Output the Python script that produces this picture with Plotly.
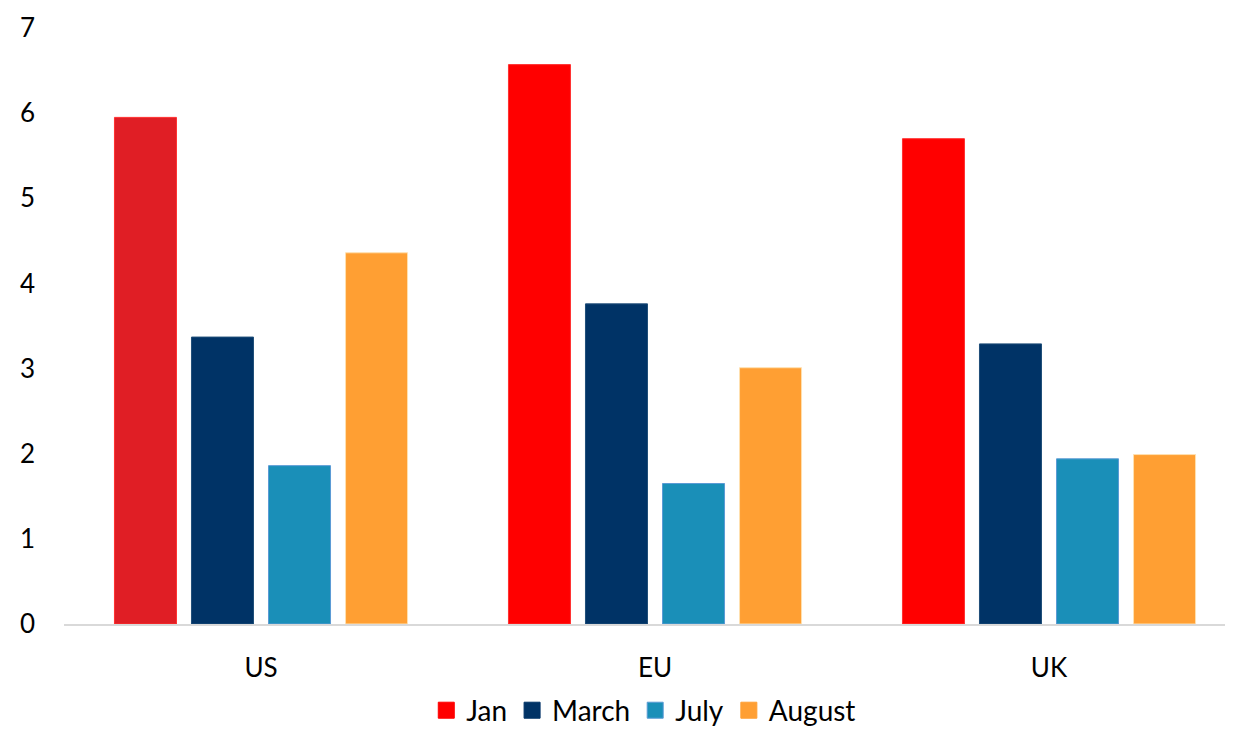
import plotly.graph_objects as go

categories = ["US", "EU", "UK"]
series_names = ["Jan", "March", "July", "August"]
jan = [5.95, 6.57, 5.70]
march = [3.37, 3.76, 3.29]
july = [1.86, 1.65, 1.94]
august = [4.36, 3.01, 1.99]
y_ticks = [0, 1, 2, 3, 4, 5, 6, 7]

values = [jan, march, july, august]
fills = [["#E01E25", "#FF0000", "#FF0000"], "#003366", "#1A8FB8", "#FF9F33"]
lines = [["#FF3030", "#FF3030", "#FF3030"], "#1F4E79", "#5B9BD5", "#FFE0B0"]
legend_colors = ["#FF0000", "#003366", "#1A8FB8", "#FF9F33"]
legend_lines = ["#FF0000", "#003366", "#5B9BD5", "#FF9F33"]

fig = go.Figure()
for name, vals, fc, lc in zip(series_names, values, fills, lines):
    fig.add_trace(go.Bar(
        name=name, x=categories, y=vals,
        marker=dict(color=fc, line=dict(color=lc, width=1)),
        showlegend=False,
    ))
# legend proxies (scatter markers do not take bar slots)
for name, c, lc in zip(series_names, legend_colors, legend_lines):
    fig.add_trace(go.Scatter(
        name=name, x=[None], y=[None], mode="markers",
        marker=dict(color=c, symbol="square", size=16, line=dict(color=lc, width=1)),
        showlegend=True,
    ))

fig.update_layout(
    width=1225, height=722,
    margin=dict(l=56, r=0, t=20, b=106, autoexpand=False),
    paper_bgcolor="white", plot_bgcolor="white",
    barmode="group", bargap=0.218, bargroupgap=0.195,
    font=dict(family="Lato, 'Open Sans', sans-serif", size=26, color="#000000"),
    legend=dict(orientation="h", x=0.519, xanchor="center", xref="container",
                y=0.027, yanchor="middle", yref="container",
                font=dict(size=28), itemwidth=30, traceorder="normal"),
    xaxis=dict(type="category", range=[-0.5, 2.467], showgrid=False,
               showline=True, linecolor="#D9D9D9", linewidth=1.5,
               ticks="", ticklabelstandoff=20, tickfont=dict(size=26)),
    yaxis=dict(range=[0, 7], tickvals=y_ticks, showgrid=False, showline=False,
               zeroline=False, ticks="", ticklabelstandoff=28, tickfont=dict(size=26)),
)

fig.write_html("out.html")
